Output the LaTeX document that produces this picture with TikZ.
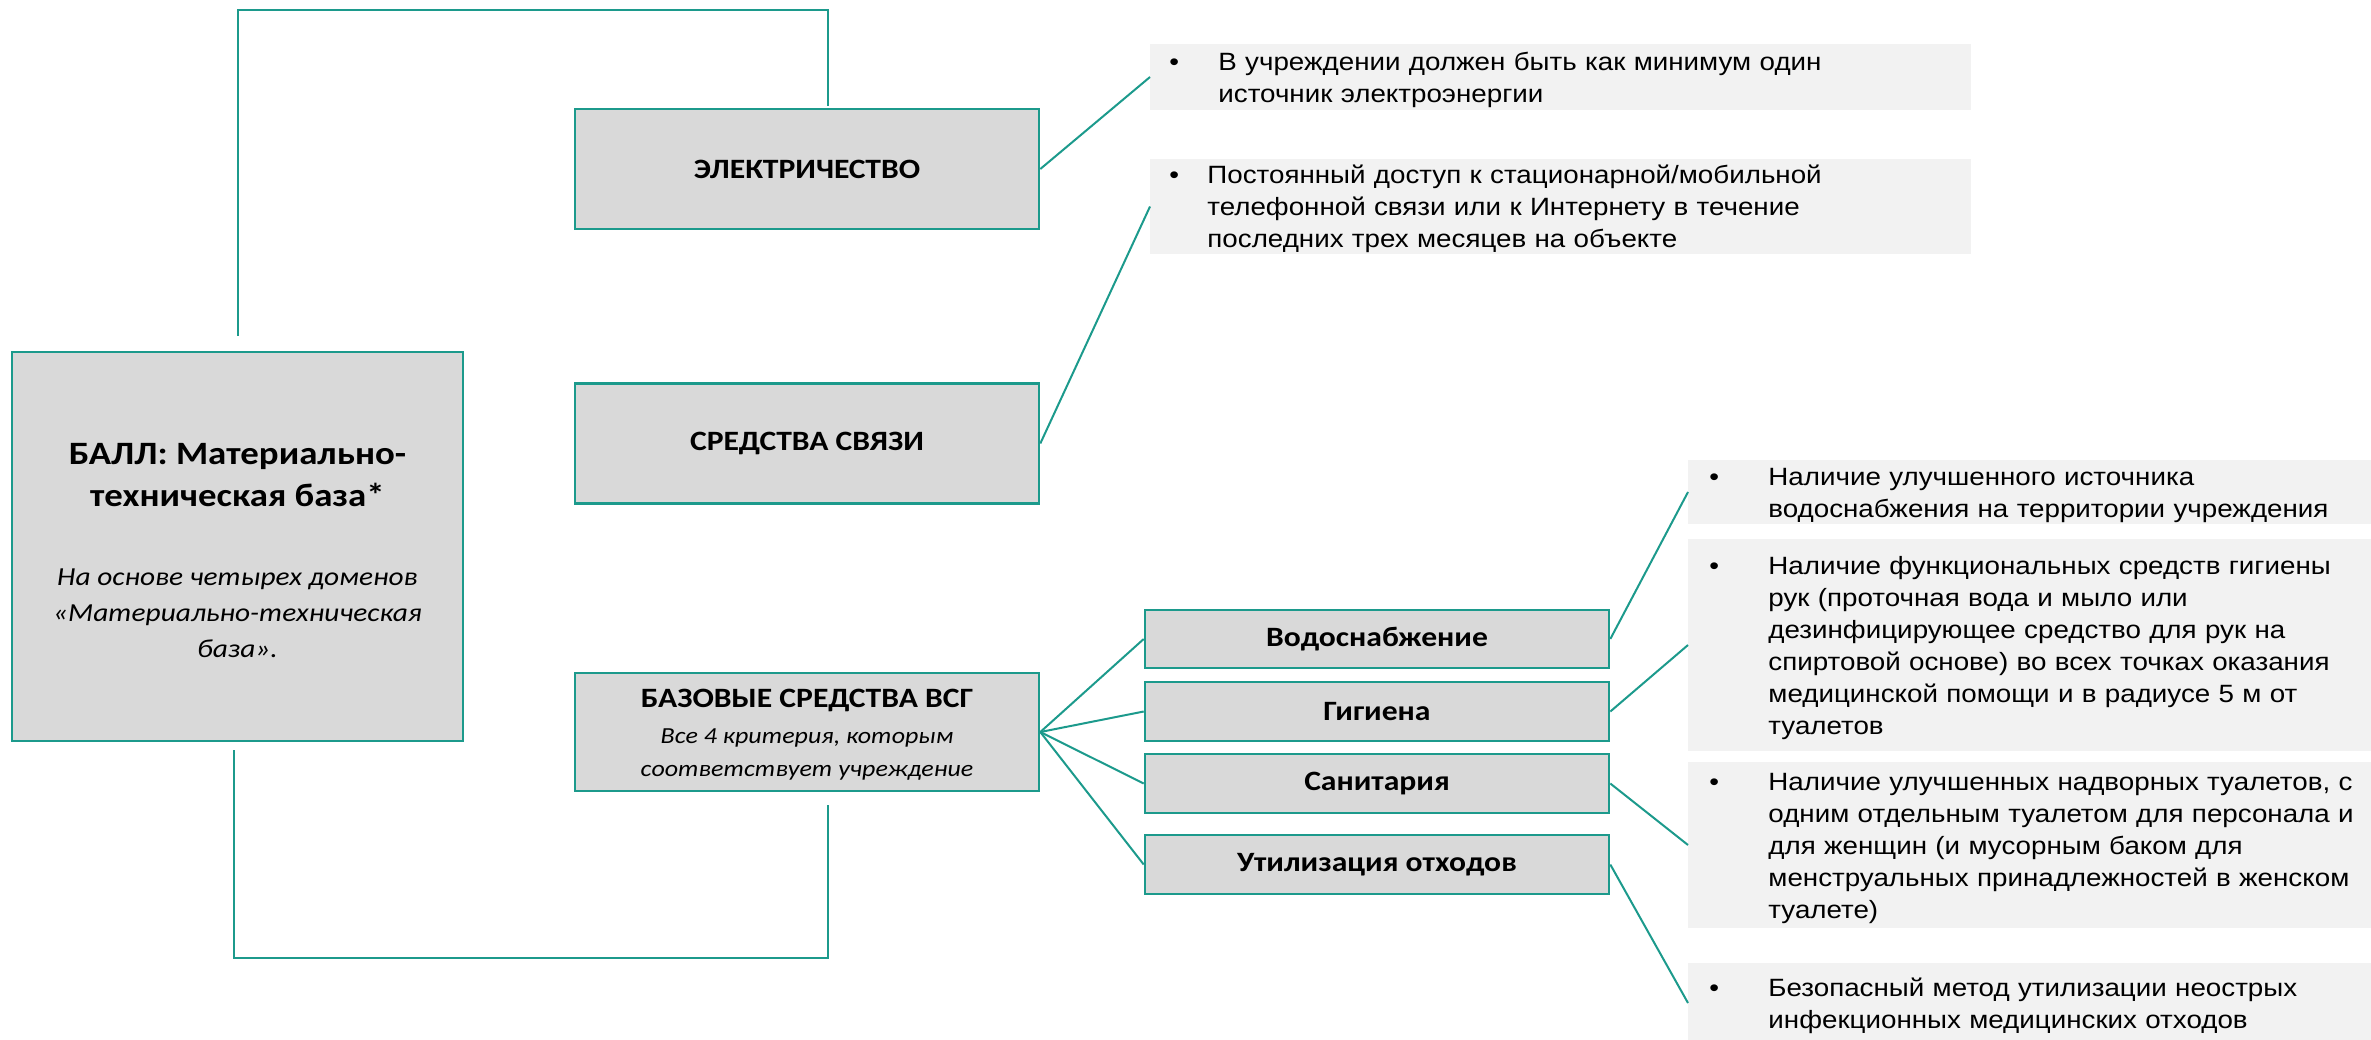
\documentclass[tikz,border=0pt]{standalone}
\usepackage{fontspec}
\setmainfont{Carlito}[FakeStretch=1.13]
\newfontfamily\notefont{Liberation Sans}[FakeStretch=1.11]
\usepackage{tikz}

\definecolor{tealline}{HTML}{1C9A8C}
\definecolor{boxgray}{HTML}{D9D9D9}
\definecolor{notegray}{HTML}{F2F2F2}

% bullet line: indent, bullet cell width, lines
\newcommand{\notepoint}[3]{\noindent\hspace*{#1}\makebox[#2][l]{\textbullet\rule{0pt}{14.2pt}}\begin{tabular}[t]{@{}l@{}}#3\end{tabular}}
% italic sub-lines under a bold heading: size, skip, lines
\newcommand{\subnote}[3]{{\mdseries\itshape\fontsize{#1}{#2}\selectfont\begin{tabular}[t]{@{}c@{}}#3\end{tabular}}}

\begin{document}
\begin{tikzpicture}[
        x=0.5pt, y=-0.5pt,
        % Styles
        mainbox/.style={rectangle, draw=tealline, line width=1.3pt, fill=boxgray, minimum width=225.5pt, minimum height=194.5pt, align=center, font=\bfseries\fontsize{16.3}{21}\selectfont},
        domainbox/.style={rectangle, draw=tealline, line width=1.3pt, fill=boxgray, minimum width=232pt, minimum height=60pt, align=center, font=\bfseries\fontsize{14}{18}\selectfont},
        critbox/.style={domainbox, minimum height=29.5pt},
        notebox/.style={rectangle, fill=notegray, anchor=west, inner xsep=0pt, inner ysep=-2pt, align=left, font=\notefont\fontsize{12.5}{16}\selectfont},
        link/.style={draw=tealline, line width=1pt}
    ]
    \useasboundingbox (0,0) rectangle (2371,1039);

    % ================= LEFT BLOCK =================
    \node[mainbox] (ball) at (237.5,546.5) {\rule{0pt}{20pt}БАЛЛ: Материально-\\техническая база*\\[18.65pt]\subnote{13}{18}{На основе четырех доменов\\«Материально-техническая\\база».}};

    % ================= DOMAINS =================
    \node[domainbox] (elec) at (807,169) {ЭЛЕКТРИЧЕСТВО};
    \node[domainbox] (comm) at (807,443.5) {СРЕДСТВА СВЯЗИ};
    \node[domainbox, minimum height=59pt, inner ysep=0pt] (base) at (807,732) {\rule{0pt}{15pt}БАЗОВЫЕ СРЕДСТВА ВСГ\\\subnote{11.5}{16.5}{Все 4 критерия, которым\\соответствует учреждение}};

    % ================= WASH CRITERIA =================
    \node[critbox, minimum height=29pt] (water) at (1377,639) {Водоснабжение};
    \node[critbox] (hyg) at (1377,711.5) {Гигиена};
    \node[critbox] (sanit) at (1377,783.5) {Санитария};
    \node[critbox] (waste) at (1377,864.5) {Утилизация отходов};

    % ================= NOTES =================
    \node[notebox, text width=410.5pt, minimum height=33pt] (elecnote) at (1150,77)
        {\notepoint{9.5pt}{24.5pt}{В учреждении должен быть как минимум один\\источник электроэнергии}};
    \node[notebox, text width=410.5pt, minimum height=47.5pt] (commnote) at (1150,206.5)
        {\notepoint{9.5pt}{19pt}{Постоянный доступ к стационарной/мобильной\\телефонной связи или к Интернету в течение\\последних трех месяцев на объекте}};
    \node[notebox, text width=346pt, minimum height=32pt] (waternote) at (1688,492)
        {\notepoint{10.5pt}{29.5pt}{Наличие улучшенного источника\\водоснабжения на территории учреждения}};
    \node[notebox, text width=346pt, minimum height=106pt] (hygnote) at (1688,645)
        {\notepoint{10.5pt}{29.5pt}{Наличие функциональных средств гигиены\\рук (проточная вода и мыло или\\дезинфицирующее средство для рук на\\спиртовой основе) во всех точках оказания\\медицинской помощи и в радиусе 5 м от\\туалетов}};
    \node[notebox, text width=346pt, minimum height=83pt] (sanitnote) at (1688,845)
        {\notepoint{10.5pt}{29.5pt}{Наличие улучшенных надворных туалетов, с\\одним отдельным туалетом для персонала и\\для женщин (и мусорным баком для\\менструальных принадлежностей в женском\\туалете)}};
    \node[notebox, text width=346pt, minimum height=40pt] (wastenote) at (1688,1003)
        {\notepoint{10.5pt}{29.5pt}{Безопасный метод утилизации неострых\\инфекционных медицинских отходов}};

    % ================= CONNECTORS =================
    % elbows from the left block to the first and last domain
    \draw[link] ([yshift=7.5pt]ball.north) -- ++(0,163pt) -| ([xshift=10.5pt,yshift=1pt]elec.north);
    \draw[link] ([xshift=-1.75pt,yshift=-4pt]ball.south) -- ++(0,-104pt) -| ([xshift=10.5pt,yshift=-6.5pt]base.south);

    \draw[link] (elec.east) -- (elecnote.west);
    \draw[link] (comm.east) -- (commnote.west);

    \foreach \crit in {water,hyg,sanit,waste}
        \draw[link] (base.east) -- (\crit.west);

    \foreach \crit/\note in {water/waternote,hyg/hygnote,sanit/sanitnote,waste/wastenote}
        \draw[link] (\crit.east) -- (\note.west);

\end{tikzpicture}
\end{document}
